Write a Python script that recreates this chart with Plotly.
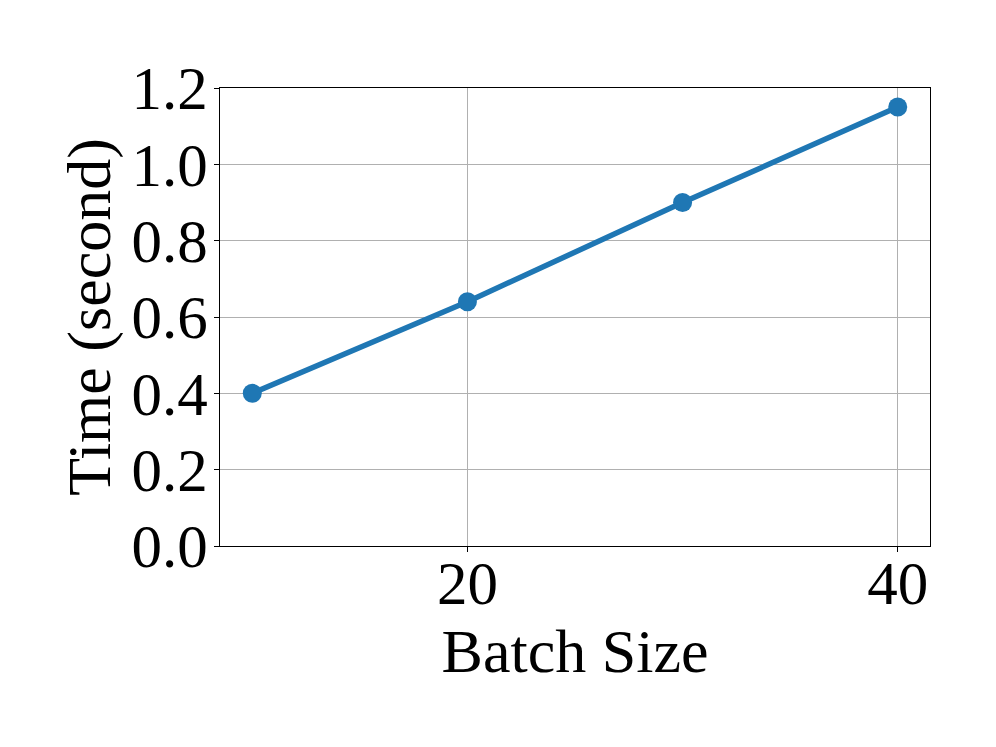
import plotly.graph_objects as go

# data
batch_size = [10, 20, 30, 40]
time_sec = [0.40, 0.64, 0.90, 1.15]
x_ticks = [20, 40]
y_ticks = [0.0, 0.2, 0.4, 0.6, 0.8, 1.0, 1.2]

font = "Liberation Serif, Times New Roman, serif"

fig = go.Figure()
fig.add_trace(go.Scatter(
    x=batch_size, y=time_sec, mode="lines+markers",
    line=dict(color="#1f77b4", width=5.5),
    marker=dict(color="#1f77b4", size=19),
))

fig.update_layout(
    width=996, height=747,
    margin=dict(l=212, r=74, t=80, b=209),
    paper_bgcolor="white", plot_bgcolor="white",
    font=dict(family=font, size=61, color="black"),
    showlegend=False,
)
fig.update_xaxes(
    range=[8.5, 41.5], tickvals=x_ticks, ticktext=[str(v) for v in x_ticks],
    showgrid=True, gridcolor="#b0b0b0", gridwidth=1,
    showline=True, linecolor="black", linewidth=1, mirror=True,
    ticks="outside", ticklen=5, tickcolor="black",
    ticklabelstandoff=-21,
    zeroline=False,
    title=dict(text="Batch Size", font=dict(size=62), standoff=0),
)
fig.update_yaxes(
    range=[0, 1.2], tickvals=y_ticks, ticktext=[f"{v:.1f}" for v in y_ticks],
    showgrid=True, gridcolor="#b0b0b0", gridwidth=1,
    showline=True, linecolor="black", linewidth=1, mirror=True,
    ticks="outside", ticklen=5, tickcolor="black",
    ticklabelstandoff=-6,
    zeroline=False,
    title=dict(text="Time (second)", font=dict(size=62), standoff=0),
)

fig.write_html("out.html")
